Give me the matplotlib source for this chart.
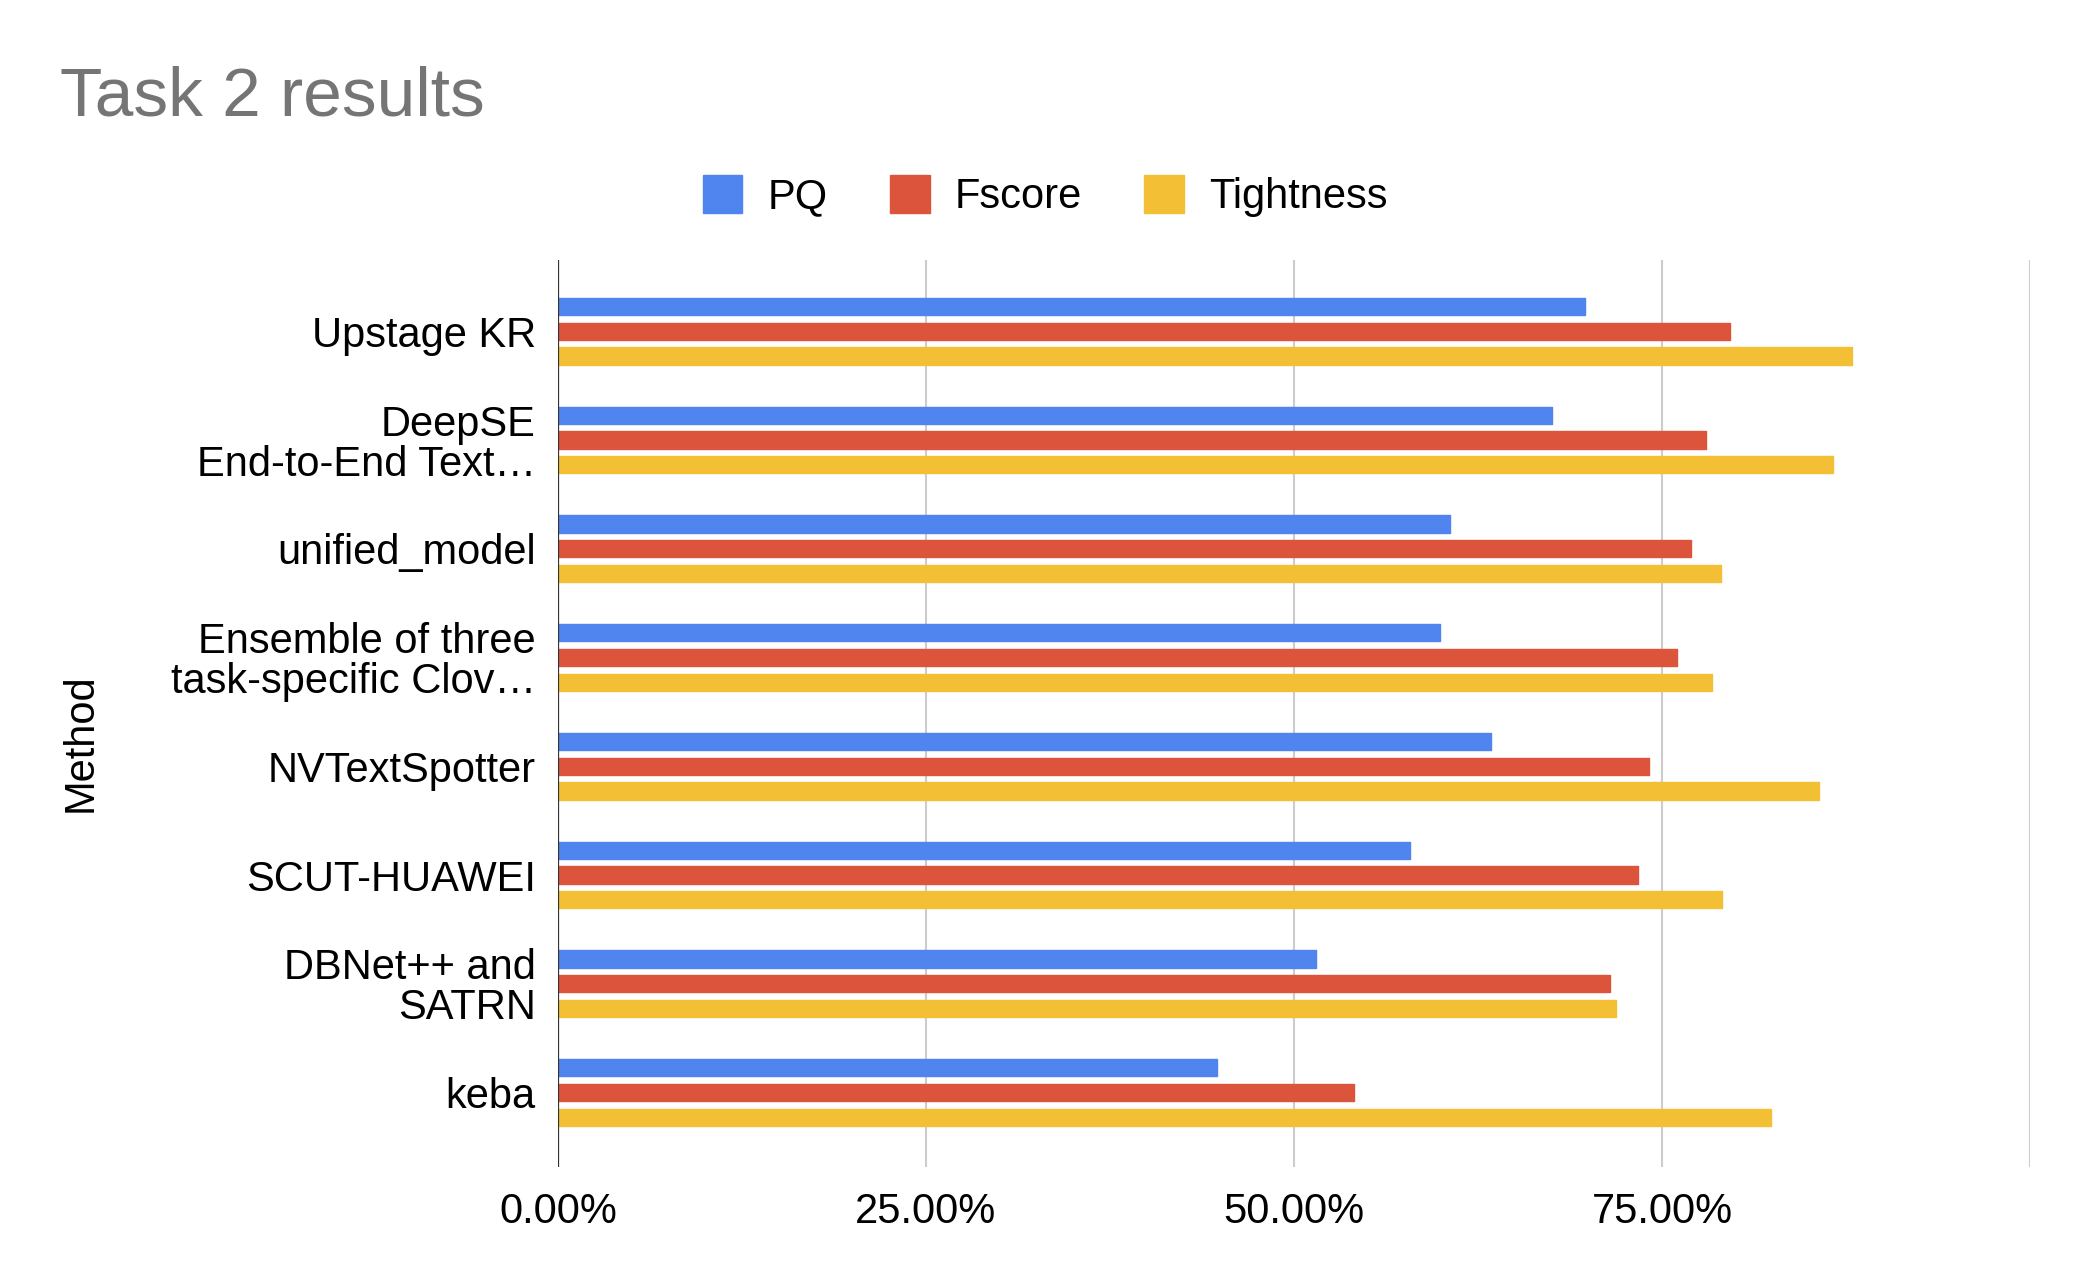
import numpy as np
import matplotlib
matplotlib.use("Agg")
import matplotlib.pyplot as plt
from matplotlib.ticker import FixedLocator

plt.rcParams["font.family"] = ["Liberation Sans", "DejaVu Sans"]

methods = [
    "Upstage KR",
    "DeepSE\nEnd-to-End Text…",
    "unified_model",
    "Ensemble of three\ntask-specific Clov…",
    "NVTextSpotter",
    "SCUT-HUAWEI",
    "DBNet++ and\nSATRN",
    "keba",
]
pq = [69.8, 67.5, 60.6, 59.9, 63.4, 57.9, 51.5, 44.8]
fscore = [79.6, 78.0, 77.0, 76.0, 74.1, 73.4, 71.5, 54.1]
tightness = [87.9, 86.6, 79.0, 78.4, 85.7, 79.1, 71.9, 82.4]

series_names = ["PQ", "Fscore", "Tightness"]
colors = ["#5084ee", "#dd543d", "#f3bf35"]
x_ticks = [0, 25, 50, 75, 100]
x_tick_labels = ["0.00%", "25.00%", "50.00%", "75.00%", ""]

fig = plt.figure(figsize=(20.82, 12.84), dpi=100)
ax = fig.add_axes([0.268, 0.0915, 0.707, 0.706])

y = np.arange(len(methods))
offset = 0.228
bar_h = 0.158
for i, (vals, name, c) in enumerate(zip([pq, fscore, tightness], series_names, colors)):
    ax.barh(y + (i - 1) * offset, vals, height=bar_h, color=c, label=name,
            edgecolor=c, linewidth=1.0, joinstyle="round", zorder=3)

ax.set_xlim(0, 100)
ax.set_ylim(7.68, -0.655)
ax.xaxis.set_major_locator(FixedLocator(x_ticks))
ax.set_xticklabels(x_tick_labels)
ax.set_yticks(y)
ax.set_yticklabels(methods, linespacing=1.0)
ax.tick_params(axis="both", length=0, labelsize=30, colors="#000000")
ax.tick_params(axis="y", pad=16)
ax.tick_params(axis="x", pad=18)

for s in ax.spines.values():
    s.set_visible(False)
ax.grid(True, axis="x", color="#cccccc", linewidth=1.5, zorder=0)
ax.axvline(0, color="#333333", linewidth=1.6, zorder=4)

ax.set_ylabel("Method", fontsize=30)
ax.yaxis.set_label_coords(-0.311, 0.467)

fig.text(60 / 2082, 1 - 97 / 1284, "Task 2 results", fontsize=50, color="#757575",
         ha="left", va="center")

fig.legend(loc="center", bbox_to_anchor=(0.502, 0.847), ncol=3, frameon=False,
           fontsize=30, handlelength=0.95, handleheight=1.0, handletextpad=0.6,
           columnspacing=1.5)

fig.savefig("out.png", dpi=100)
